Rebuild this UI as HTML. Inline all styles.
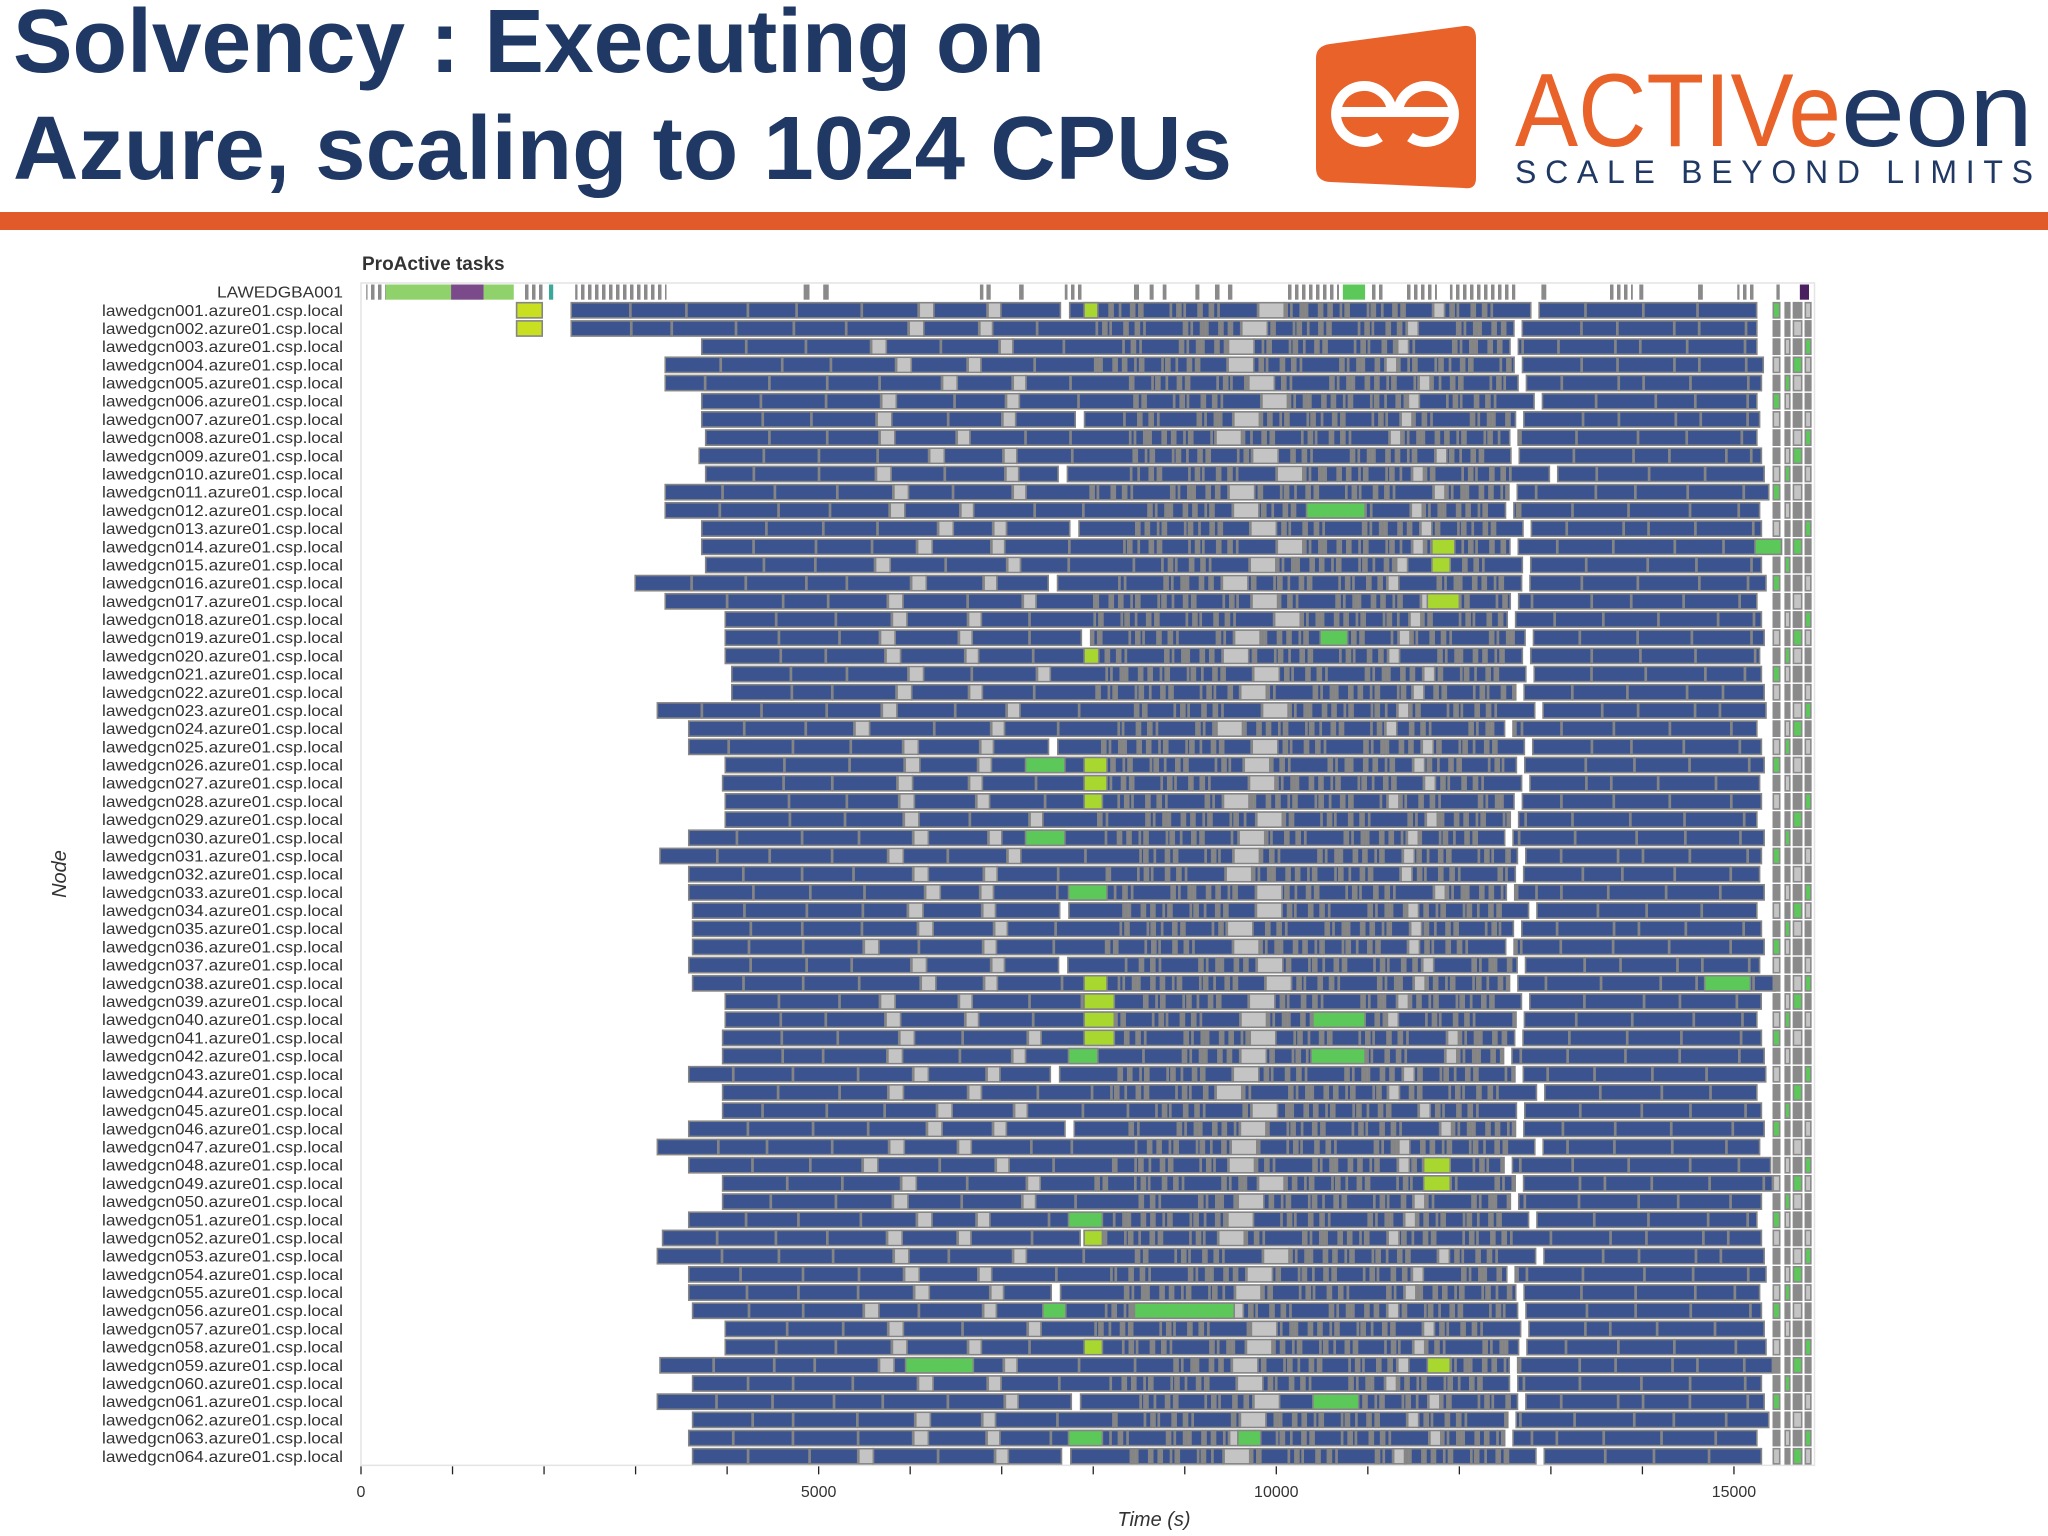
<!DOCTYPE html>
<html><head><meta charset="utf-8"><style>
html,body{margin:0;padding:0;background:#fff;}
body{width:2048px;height:1536px;overflow:hidden;position:relative;font-family:"Liberation Sans",sans-serif;}
svg{position:absolute;left:0;top:0;}
</style></head><body>
<svg id="page" width="2048" height="1536" viewBox="0 0 2048 1536">
  <defs>
    <pattern id="dense" width="7" height="20" patternUnits="userSpaceOnUse">
      <rect width="7" height="20" fill="#ffffff"/><rect width="3.5" height="20" fill="#8a8a8a"/>
    </pattern>
  </defs>
  <g fill="#1f3864" font-family="Liberation Sans, sans-serif" font-weight="bold" font-size="90">
    <text x="13" y="72" textLength="1032" lengthAdjust="spacingAndGlyphs">Solvency : Executing on</text>
    <text x="13" y="179" textLength="1219" lengthAdjust="spacingAndGlyphs">Azure, scaling to 1024 CPUs</text>
  </g>
  <g>
    <path d="M1330,44 L1464,26 Q1476,25 1476,38 L1476,178 Q1476,190 1464,188 L1330,182 Q1316,181 1316,168 L1316,58 Q1316,46 1330,44 Z" fill="#e8622a"/>
    <g fill="none" stroke="#fff" stroke-width="10">
      <path d="M1392,112 A28,28 0 1 0 1380,137"/>
      <path d="M1398,112 A28,28 0 1 1 1410,137"/>
      <line x1="1340" y1="112" x2="1450" y2="112"/>
    </g>
    <text x="1515" y="146" font-size="104" fill="#e8622a" textLength="326" lengthAdjust="spacingAndGlyphs">ACTIVe</text>
    <text x="1841" y="146" font-size="104" fill="#1f3864" textLength="192" lengthAdjust="spacingAndGlyphs">eon</text>
    <text x="1515" y="183" font-size="32" fill="#1f3864" textLength="518" lengthAdjust="spacing">SCALE BEYOND LIMITS</text>
  </g>
  <rect x="0" y="212" width="2048" height="18" fill="#e15b2a"/>
  <text x="362" y="270" font-size="19" font-weight="bold" fill="#333">ProActive tasks</text>
  <g id="chart"></g>
</svg>
<script>
const nodeNames=["LAWEDGBA001"];
for(let i=1;i<=64;i++){nodeNames.push("lawedgcn"+String(i).padStart(3,"0")+".azure01.csp.local");}
const nodeStarts=[1698,1698,3723,3324,3324,3723,3723,3766,3695,3766,3324,3324,3723,3723,3766,2996,3324,3980,3980,3980,4051,4051,3238,3581,3581,3980,3951,3980,3980,3581,3267,3581,3581,3623,3623,3623,3581,3623,3980,3980,3951,3951,3581,3951,3951,3581,3238,3581,3951,3951,3581,3295,3238,3581,3581,3623,3980,3980,3267,3623,3238,3623,3581,3623];
const nodeEnds=[15250,15250,15250,15320,15300,15250,15280,15250,15300,15330,15380,15280,15300,15250,15300,15350,15250,15300,15330,15280,15300,15330,15350,15250,15300,15330,15280,15300,15250,15330,15300,15280,15330,15250,15300,15330,15280,15450,15300,15250,15300,15330,15350,15250,15300,15330,15280,15400,15420,15300,15250,15300,15330,15350,15280,15300,15330,15350,15420,15300,15330,15380,15250,15300];
const earlyDurations=[640,600,660,520,700,610,580,650,430,690,620,560,670,600,480,640,700,590,630,550];
const midDurations=[120,20,60,20,90,40,20,200,30,20,70,110,20,45,20,300,60,20,35,140,20,80,20,50,420,20,40,90,20,25];
const lateDurations=[620,580,640,420,560,600,660,520,590,640,380,610,260,500];
const idleColumns=[[5900,160],[6900,140],[9850,280],[11700,120]];
const whiteGaps=[[7500,90],[12600,80]];
const colorPatches=[[1,1700,1980,"#c8e020"],[2,1700,1980,"#c8e020"],[1,7900,8050,"#a8d830"],[12,10330,10970,"#5cc85a"],[14,15230,15520,"#5cc85a"],[14,11700,11950,"#a8d830"],[15,11700,11900,"#a8d830"],[17,11650,12000,"#a8d830"],[19,10480,10780,"#5cc85a"],[20,7900,8060,"#a8d830"],[26,7260,7690,"#5cc85a"],[26,7900,8150,"#a8d830"],[27,7900,8150,"#a8d830"],[28,7900,8100,"#a8d830"],[30,7260,7690,"#5cc85a"],[33,7730,8150,"#5cc85a"],[38,7900,8150,"#a8d830"],[38,14680,15180,"#5cc85a"],[39,7900,8230,"#a8d830"],[40,7900,8230,"#a8d830"],[40,10400,10970,"#5cc85a"],[41,7900,8230,"#a8d830"],[42,7730,8050,"#5cc85a"],[42,10380,10970,"#5cc85a"],[48,11610,11900,"#a8d830"],[49,11610,11900,"#a8d830"],[51,7730,8100,"#5cc85a"],[52,7900,8100,"#a8d830"],[56,8450,9540,"#5cc85a"],[56,7450,7700,"#5cc85a"],[58,7900,8100,"#a8d830"],[59,5950,6690,"#5cc85a"],[59,11650,11900,"#a8d830"],[61,10400,10900,"#5cc85a"],[63,7730,8100,"#5cc85a"],[63,9580,9830,"#5cc85a"]];
const tailBlocks=[[15430,70],[15560,50],[15650,90],[15780,60]];
const row0Segments=[[57,271,"dense"],[271,984,"#8fd16a"],[984,1341,"#7a4a8a"],[1341,1669,"#8fd16a"],[1769,1983,"dense"],[2054,2100,"#3aa89a"],[2340,3338,"dense"],[4836,4900,"gray"],[5050,5110,"gray"],[6762,6800,"gray"],[6833,6880,"gray"],[7190,7240,"gray"],[7689,7903,"dense"],[8445,8500,"gray"],[8616,8660,"gray"],[8759,8800,"gray"],[9116,9160,"gray"],[9330,9380,"gray"],[9472,9520,"gray"],[10114,10685,"dense"],[10727,10970,"#5cc85a"],[11041,11184,"dense"],[11398,11755,"dense"],[11897,12611,"dense"],[12896,12950,"gray"],[13609,13895,"dense"],[13966,14010,"gray"],[14608,14660,"gray"],[15036,15250,"dense"],[15464,15500,"gray"],[15720,15820,"#4a2060"]];
const xTicks=[0,1000,2000,3000,4000,5000,6000,7000,8000,9000,10000,11000,12000,13000,14000,15000];
const xTickLabels=[0,5000,10000,15000];

const X0=361, PX=0.09153, TOP=283, RH=18.19, XMAX=15880;
const MID_START=7950, MID_END=12650;
function xs(t){return X0+t*PX;}
function ry(i){return TOP+i*RH;}
const NS="http://www.w3.org/2000/svg";
const chart=document.getElementById("chart");
function mk(tag,attrs,parent){const e=document.createElementNS(NS,tag);for(const k in attrs)e.setAttribute(k,attrs[k]);(parent||chart).appendChild(e);return e;}

const frame=mk("rect",{x:X0,y:TOP,width:xs(XMAX)-X0,height:RH*65,fill:"none",stroke:"#e4e4e4","stroke-width":1.5});



nodeNames.forEach((n,i)=>{
  const t=mk("text",{x:343,y:ry(i)+RH/2+5.5,"text-anchor":"end","font-size":16,fill:"#333",textLength:i===0?126:241,lengthAdjust:"spacingAndGlyphs"});
  t.textContent=n;
  
  
});

row0Segments.forEach(s=>{
  const fill=s[2]==="dense"?"url(#dense)":(s[2]==="gray"?"#8a8a8a":s[2]);
  const r=mk("rect",{x:xs(s[0]),y:ry(0)+1.5,width:Math.max(2,xs(s[1])-xs(s[0])),height:RH-3,fill:fill});
  
  
});

function bar(i,t0,t1,fill,stroke){
  const r=mk("rect",{x:xs(t0),y:ry(i)+1.5,width:Math.max(1.2,xs(t1)-xs(t0)),height:RH-3,fill:fill,stroke:stroke||"#858585","stroke-width":1.6});
  
  
}

for(let n=0;n<64;n++){
  const i=n+1;
  let t=nodeStarts[n];
  const end=nodeEnds[n];
  if(n<2){t=2297;}
  let k=(n*7);
  const usedIdle=idleColumns.map(()=>false), usedGap=whiteGaps.map(()=>false);
  while(t<end){
    for(let c=0;c<idleColumns.length;c++){
      const col=idleColumns[c];
      if(!usedIdle[c] && t>=col[0]-(n%4)*120-150){usedIdle[c]=true;
        if(t<col[0]+500){bar(i,t,t+col[1],"#c4c4c4");t+=col[1];}
        break;}
    }
    for(let g=0;g<whiteGaps.length;g++){
      if(!usedGap[g] && t>=whiteGaps[g][0]-(n%3)*60){usedGap[g]=true;
        if(t<whiteGaps[g][0]+400 && (g===1 || n%3===0)){t+=whiteGaps[g][1];}}
    }
    let d, fill="#3b5490";
    if(t<MID_START){d=earlyDurations[k%earlyDurations.length];}
    else if(t<MID_END){d=midDurations[k%midDurations.length]; if(d<=25)fill="#8a8a8a";}
    else {d=lateDurations[k%lateDurations.length];}
    k++;
    const t1=Math.min(end,t+d);
    bar(i,t,t1,fill);
    t=t1+12;
  }
  tailBlocks.forEach((b,j)=>{
    const f=((n+j)%5===0)?"#5cc85a":(((n+j)%3===0)?"#c4c4c4":"#8a8a8a");
    bar(i,b[0],b[0]+b[1],f,"#8a8a8a");
  });
}
colorPatches.forEach(p=>{bar(p[0],p[1],p[2],p[3],"#858585");});

const axis=mk("g",{});


const base=ry(65);
xTicks.forEach(v=>{
  const l=mk("line",{x1:xs(v),x2:xs(v),y1:base+1,y2:base+9,stroke:"#222","stroke-width":1.3},axis);
  
  
});
xTickLabels.forEach(v=>{
  const tx=mk("text",{x:xs(v),y:1497,"text-anchor":"middle","font-size":16,fill:"#333"},axis);
  tx.textContent=v;
  
  
});
const xt=mk("text",{x:1154,y:1526,"text-anchor":"middle","font-size":20,"font-style":"italic",fill:"#333"});
xt.textContent="Time (s)";


const yt=mk("text",{x:0,y:0,"text-anchor":"middle","font-size":20,"font-style":"italic",fill:"#333",transform:"translate(66,874) rotate(-90)"});
yt.textContent="Node";


</script>
</body></html>
